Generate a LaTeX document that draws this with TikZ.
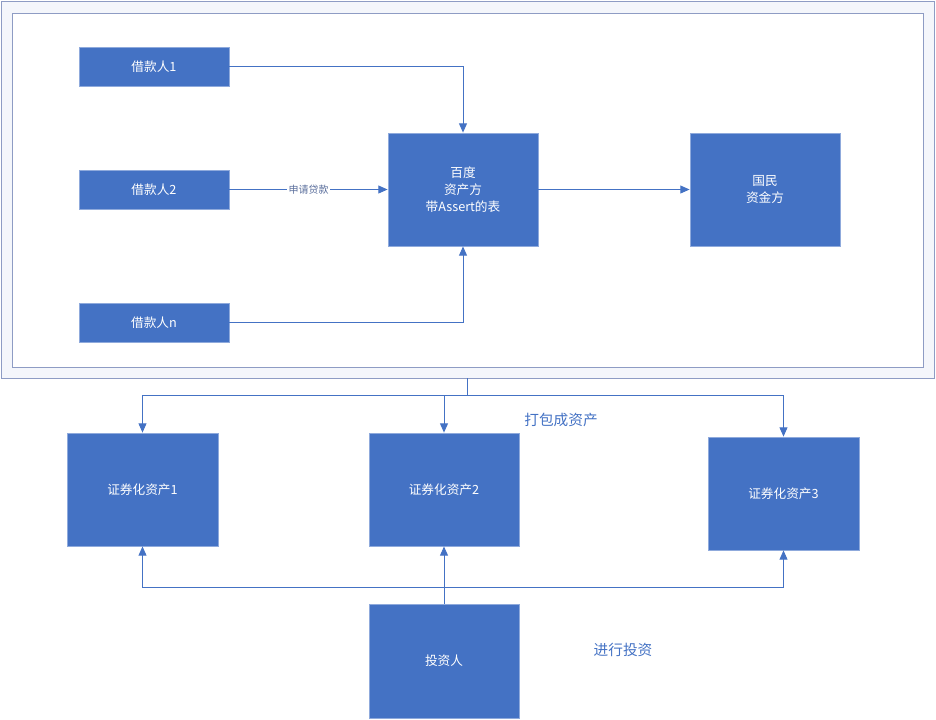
\documentclass[tikz,border=0pt]{standalone}
\usepackage{fontspec}
\setmainfont{Noto Sans CJK SC}
\usetikzlibrary{arrows.meta}
\definecolor{boxblue}{HTML}{4472C4}
\definecolor{boxedge}{HTML}{8FAADC}
\definecolor{linkblue}{HTML}{4472C4}
\definecolor{frameedge}{HTML}{8E9CC4}
\definecolor{framefill}{HTML}{F4F6FB}
\definecolor{labelgray}{HTML}{5A6E9C}
\begin{document}
\begin{tikzpicture}[x=0.75pt,y=-0.75pt,
  blk/.style={draw=boxedge,fill=boxblue,line width=0.6pt,text=white,font=\fontsize{9.5}{13}\selectfont,align=center,inner sep=0pt},
  link/.style={draw=linkblue,line width=0.75pt,-{Triangle[width=6pt,length=7pt]}},
  plain/.style={draw=linkblue,line width=0.75pt}]
\useasboundingbox (0,0) rectangle (936,719);
% frames
\node (outer) [draw=frameedge,fill=framefill,line width=0.7pt,minimum width=933*0.75pt,minimum height=377*0.75pt,inner sep=0pt] at (467.5,189.5) {};
\node (inner) [draw=frameedge,fill=white,line width=0.7pt,minimum width=911*0.75pt,minimum height=354*0.75pt,inner sep=0pt] at (467.5,190) {};
% top nodes
\node (b1) [blk,minimum width=150*0.75pt,minimum height=39*0.75pt] at (154,66.5) {借款人1};
\node (b2) [blk,minimum width=150*0.75pt,minimum height=39*0.75pt] at (154,189.5) {借款人2};
\node (bn) [blk,minimum width=150*0.75pt,minimum height=39*0.75pt] at (154,322.5) {借款人n};
\node (bd) [blk,minimum width=150*0.75pt,minimum height=113*0.75pt] at (463,189.5) {百度\\资产方\\带Assert的表};
\node (gm) [blk,minimum width=150*0.75pt,minimum height=113*0.75pt] at (765,189.5) {国民\\资金方};
% bottom nodes
\node (s1) [blk,minimum width=151*0.75pt,minimum height=113*0.75pt] at (142.5,489.5) {证券化资产1};
\node (s2) [blk,minimum width=150*0.75pt,minimum height=113*0.75pt] at (444,489.5) {证券化资产2};
\node (s3) [blk,minimum width=151*0.75pt,minimum height=113*0.75pt] at (783.5,493.5) {证券化资产3};
\node (tz) [blk,minimum width=150*0.75pt,minimum height=114*0.75pt] at (444,661) {投资人};
% top connectors
\draw[link] (b1.east) -| (bd.north);
\draw[link] (b2.east) -- node[fill=white,inner sep=1pt,text=labelgray,font=\fontsize{7.5}{9}\selectfont] {申请贷款} (bd.west);
\draw[link] (bn.east) -| (bd.south);
\draw[link] (bd.east) -- (gm.west);
% packaging
\coordinate (split) at (467,395);
\draw[plain] (outer.south -| split) -- (split);
\draw[link] (split) -| (s1.north);
\draw[link] (split) -| (s3.north);
\draw[link] (s2.north |- split) -- (s2.north);
\node (lab1) [text=linkblue,font=\fontsize{11}{13}\selectfont] at (561,420) {打包成资产};
% investing
\coordinate (inv) at (444,587);
\draw[link] (tz.north) -- (s2.south);
\draw[link] (inv) -| (s1.south);
\draw[link] (inv) -| (s3.south);
\node (lab2) [text=linkblue,font=\fontsize{11}{13}\selectfont] at (623,650) {进行投资};
\end{tikzpicture}
\end{document}
